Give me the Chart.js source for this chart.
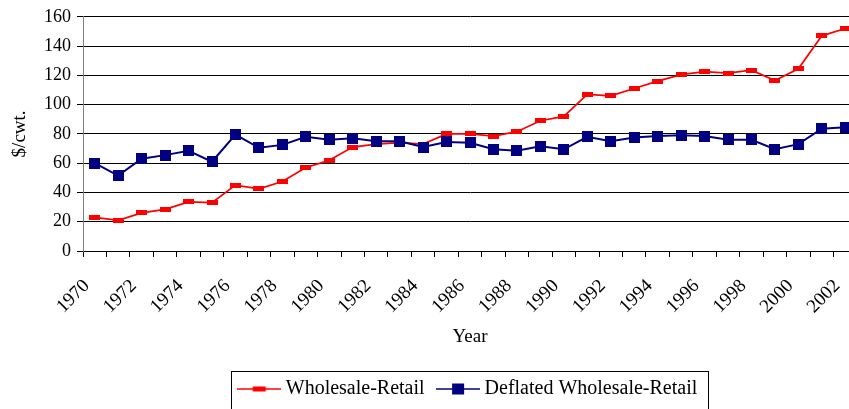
<!DOCTYPE html>
<html>
<head>
<meta charset="utf-8">
<script src="https://cdn.jsdelivr.net/npm/chart.js@4.4.1/dist/chart.umd.min.js"></script>
<style>
  html, body { margin: 0; padding: 0; background: #fff; overflow: hidden; }
  #wrap { width: 863px; height: 409px; }
</style>
</head>
<body>
<div id="wrap"><canvas id="myChart" width="863" height="409"></canvas></div>
<script>
const years = [];
for (let y = 1970; y <= 2002; y++) years.push(String(y));

const wholesaleRetail = [23, 21, 26, 28.5, 33.5, 33, 45, 42.5, 47.5, 57, 62, 71, 73, 74, 73, 80, 80, 78.5, 81.5, 89, 92,
  107, 106, 111, 116, 120.5, 122.5, 121.5, 123.5, 116.5, 124.5, 147, 152];
const deflatedWholesaleRetail = [60, 51.5, 63, 65.5, 68.5, 61, 79.5, 70.5, 72.5, 78, 76, 77, 75, 75, 71, 74.5, 74, 69.5, 68.5, 71.5, 69.5,
  78, 75, 77.5, 78.5, 79, 78.5, 76, 76, 69.5, 73, 83.5, 84.5];
const yTicks = [0, 20, 40, 60, 80, 100, 120, 140, 160];

const RED = '#ff0000';
const NAVY = '#000080';
const FONT = '"Liberation Serif", "Times New Roman", serif';

// small canvases used as markers
function makeMarker(w, h, color) {
    const c = document.createElement('canvas');
    c.width = w; c.height = h;
    const g = c.getContext('2d');
    g.fillStyle = color;
    g.fillRect(0, 0, w, h);
    return c;
}

// legend sample: line with a marker in the middle (like Excel)
function makeLegendSample(color, mw, mh, lw) {
    const c = document.createElement('canvas');
    c.width = 44; c.height = 14;
    const g = c.getContext('2d');
    g.strokeStyle = color;
    g.lineWidth = lw;
    g.beginPath();
    g.moveTo(0, 7); g.lineTo(44, 7);
    g.stroke();
    g.fillStyle = color;
    g.fillRect(22 - mw / 2, 7 - mh / 2, mw, mh);
    return c;
}

const redPoint = makeMarker(11, 5, RED);
const bluePoint = makeMarker(11, 11, NAVY);
const redLegend = makeLegendSample(RED, 13, 5, 1.5);
const blueLegend = makeLegendSample(NAVY, 12, 11, 1.5);

// draws the box around the legend
const legendBorder = {
    id: 'legendBorder',
    afterDraw(chart) {
        const boxes = chart.legend.legendHitBoxes;
        if (!boxes || !boxes.length) return;
        const first = boxes[0], last = boxes[boxes.length - 1];
        const ctx = chart.ctx;
        ctx.save();
        ctx.strokeStyle = '#000';
        ctx.lineWidth = 1;
        ctx.strokeRect(Math.round(first.left - 12) + 0.5, 371.5, Math.round(last.left + last.width + 10 - first.left + 12), 40);
        ctx.restore();
    }
};

const ctx = document.getElementById('myChart').getContext('2d');
new Chart(ctx, {
    type: 'line',
    data: {
        labels: years,
        datasets: [{
            label: 'Wholesale-Retail',
            data: wholesaleRetail,
            borderColor: RED,
            backgroundColor: RED,
            borderWidth: 1.75,
            pointStyle: redPoint,
            order: 1,
            tension: 0
        }, {
            label: 'Deflated Wholesale-Retail',
            data: deflatedWholesaleRetail,
            borderColor: NAVY,
            backgroundColor: NAVY,
            borderWidth: 2,
            pointStyle: bluePoint,
            order: 0,
            tension: 0
        }]
    },
    options: {
        responsive: false,
        animation: false,
        events: [],
        layout: { padding: { top: 16, left: 0, right: 0, bottom: 0 } },
        scales: {
            x: {
                offset: true,
                grid: {
                    offset: true,
                    drawOnChartArea: false,
                    drawTicks: true,
                    tickLength: 6,
                    color: '#000'
                },
                border: { color: '#000', width: 1 },
                ticks: {
                    autoSkip: false,
                    maxRotation: 45,
                    minRotation: 45,
                    padding: 18,
                    labelOffset: -8,
                    color: '#000',
                    font: { family: FONT, size: 19 },
                    callback: function (val, index) {
                        return index % 2 === 0 ? this.getLabelForValue(val) : '';
                    }
                },
                title: {
                    display: true,
                    text: 'Year',
                    color: '#000',
                    font: { family: FONT, size: 19 },
                    padding: { top: 0, bottom: 14 }
                },
                afterFit(scale) {
                    scale.height = 111;
                    scale.paddingLeft = 0;
                    scale.paddingRight = 0;
                }
            },
            y: {
                min: 0,
                max: 160,
                afterBuildTicks(scale) { scale.ticks = yTicks.map(v => ({ value: v })); },
                grid: {
                    color: '#000',
                    tickLength: 6
                },
                border: { color: '#808080', width: 1 },
                ticks: {
                    padding: 6,
                    color: '#000',
                    font: { family: FONT, size: 18 }
                },
                title: {
                    display: true,
                    text: '$/cwt.',
                    color: '#000',
                    font: { family: FONT, size: 19 },
                    padding: { top: 9, bottom: 0 }
                },
                afterFit(scale) { scale.width = 83; }
            }
        },
        plugins: {
            tooltip: { enabled: false },
            legend: {
                position: 'bottom',
                fullSize: false,
                labels: {
                    usePointStyle: true,
                    pointStyleWidth: 33,
                    padding: 17,
                    color: '#000',
                    font: { family: FONT, size: 20 },
                    generateLabels: function (chart) {
                        return [
                            { text: 'Wholesale-Retail', pointStyle: redLegend, fillStyle: RED, strokeStyle: RED, lineWidth: 0, datasetIndex: 0, fontColor: '#000' },
                            { text: 'Deflated Wholesale-Retail', pointStyle: blueLegend, fillStyle: NAVY, strokeStyle: NAVY, lineWidth: 0, datasetIndex: 1, fontColor: '#000' }
                        ];
                    }
                }
            }
        }
    },
    plugins: [legendBorder]
});
</script>
</body>
</html>
